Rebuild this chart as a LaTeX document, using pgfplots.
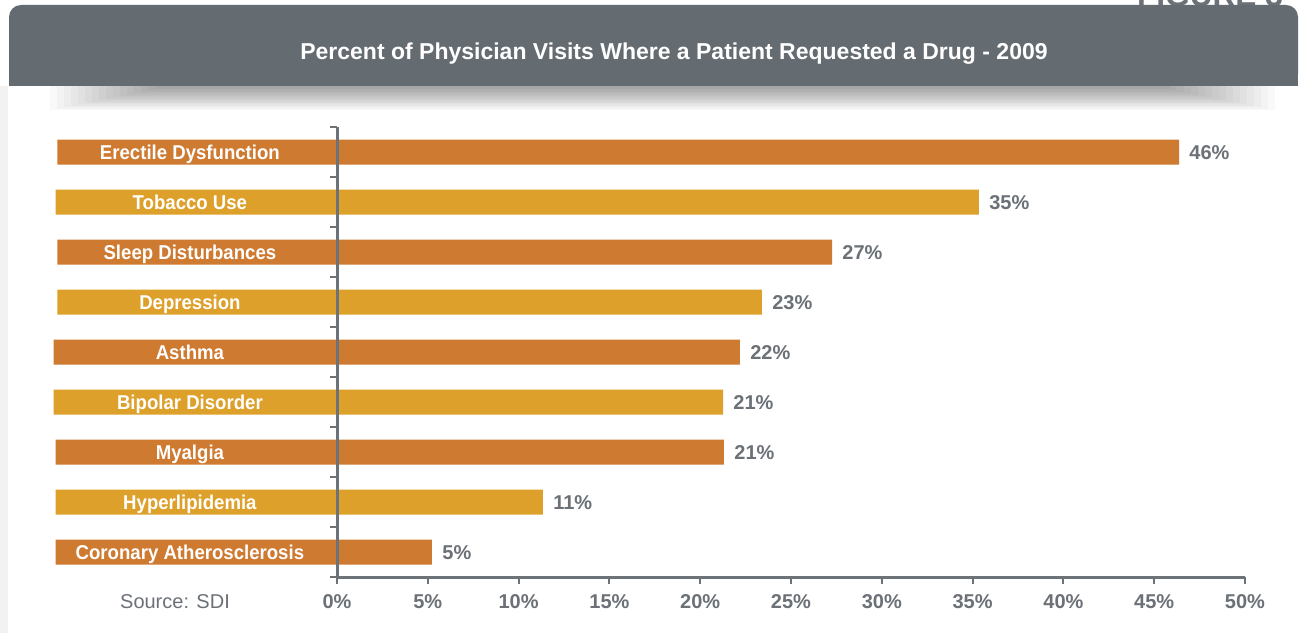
\documentclass[border=0pt]{standalone}
\usepackage{fontspec}
\setmainfont{Liberation Sans}
\newfontfamily\condfont[FakeStretch=0.93]{Liberation Sans}
\usepackage{pgfplots}
\pgfplotsset{compat=1.18}
\definecolor{headgrey}{HTML}{646B71}
\definecolor{barorange}{HTML}{CF7A31}
\definecolor{bargold}{HTML}{DDA02A}
\definecolor{txtgrey}{HTML}{6B7177}
\definecolor{axgrey}{HTML}{6B7378}

\begin{document}
\begin{tikzpicture}
\useasboundingbox (0,0) rectangle (649.5pt,316.5pt);
\clip (0,0) rectangle (649.5pt,316.5pt);
% frame, header band and source note, in pixel units of the reference
\begin{scope}[x=0.5pt,y=-0.5pt,yshift=316.5pt]
  \fill[white] (0,0) rectangle (1299,633);
  \fill[black!5] (0,86) rectangle (8,633);
  \node[anchor=base, inner sep=0pt, text=txtgrey,
        font=\condfont\bfseries\fontsize{17}{17}\selectfont] at (1210,7) {FIGURE 3};
  % soft shadow under the band
  \foreach \i in {0,...,15}
    \fill[black, opacity=0.022] (50+\i*7,86) rectangle (1275-\i*7,86+24-\i*1.4);
  \fill[headgrey, rounded corners=6pt] (9,86) -- (9,5) -- (1298,5) -- (1298,86) -- cycle;
  \fill[headgrey] (9,60) rectangle (1298,86);
  \node[anchor=base, inner sep=0pt, text=white,
        font=\bfseries\fontsize{11.5}{12}\selectfont] at (674,60)
        {Percent of Physician Visits Where a Patient Requested a Drug - 2009};
  \node[anchor=base, inner sep=0pt, text=txtgrey,
        font=\fontsize{10}{12}\selectfont] at (175,608) {Source: SDI};
\end{scope}

\begin{axis}[
  at={(168.5pt,28pt)}, anchor=south west,
  scale only axis, width=454pt, height=225pt,
  xbar, bar width=0.5, bar shift=0pt,
  xmin=0, xmax=50, ymin=-0.5, ymax=8.5, y dir=reverse,
  clip=false, axis on top,
  /pgf/number format/assume math mode=true,
  axis x line*=bottom, axis y line*=left,
  axis line style={draw=axgrey, line width=1.5pt},
  xtick={0,5,...,50},
  xticklabels={0\%,5\%,10\%,15\%,20\%,25\%,30\%,35\%,40\%,45\%,50\%},
  ytick={-0.5,0.5,...,8.5}, yticklabels={},
  tick align=outside, major tick length=3.5pt,
  tick style={draw=axgrey, line width=1pt},
  xticklabel style={font=\bfseries\fontsize{10}{12}\selectfont, text=txtgrey,
                    anchor=base, yshift=-12pt},
]
% bars: value part (0 to value), with the part left of zero that holds the name
\addplot[fill=barorange, draw=none,
  nodes near coords={\pgfmathprintnumber[fixed,precision=0]{\pgfplotspointmeta}\%},
  point meta=x,
  every node near coord/.append style={anchor=base west, inner sep=0pt, xshift=5pt,
     yshift=-3.8pt, text=txtgrey, font=\bfseries\fontsize{10}{12}\selectfont}]
  coordinates {(46.37,0) (27.26,2) (22.19,4) (21.31,6) (5.23,8)};
\addplot[fill=bargold, draw=none,
  nodes near coords={\pgfmathprintnumber[fixed,precision=0]{\pgfplotspointmeta}\%},
  point meta=x,
  every node near coord/.append style={anchor=base west, inner sep=0pt, xshift=5pt,
     yshift=-3.8pt, text=txtgrey, font=\bfseries\fontsize{10}{12}\selectfont}]
  coordinates {(35.35,1) (23.40,3) (21.26,5) (11.34,7)};
\addplot[fill=barorange, draw=none]
  coordinates {(-15.4,0) (-15.4,2) (-15.6,4) (-15.5,6) (-15.5,8)};
\addplot[fill=bargold, draw=none]
  coordinates {(-15.5,1) (-15.4,3) (-15.6,5) (-15.5,7)};
% category names inside the bars
\addplot[draw=none, fill=none, point meta=explicit symbolic, nodes near coords,
  every node near coord/.append style={anchor=base, inner sep=0pt, yshift=-3.6pt,
     text=white, font=\condfont\bfseries\fontsize{10}{12}\selectfont}]
  coordinates {
    (-8.1,0) [Erectile Dysfunction]
    (-8.1,1) [Tobacco Use]
    (-8.1,2) [Sleep Disturbances]
    (-8.1,3) [Depression]
    (-8.1,4) [Asthma]
    (-8.1,5) [Bipolar Disorder]
    (-8.1,6) [Myalgia]
    (-8.1,7) [Hyperlipidemia]
    (-8.1,8) [Coronary Atherosclerosis]
  };
\end{axis}
\end{tikzpicture}
\end{document}
